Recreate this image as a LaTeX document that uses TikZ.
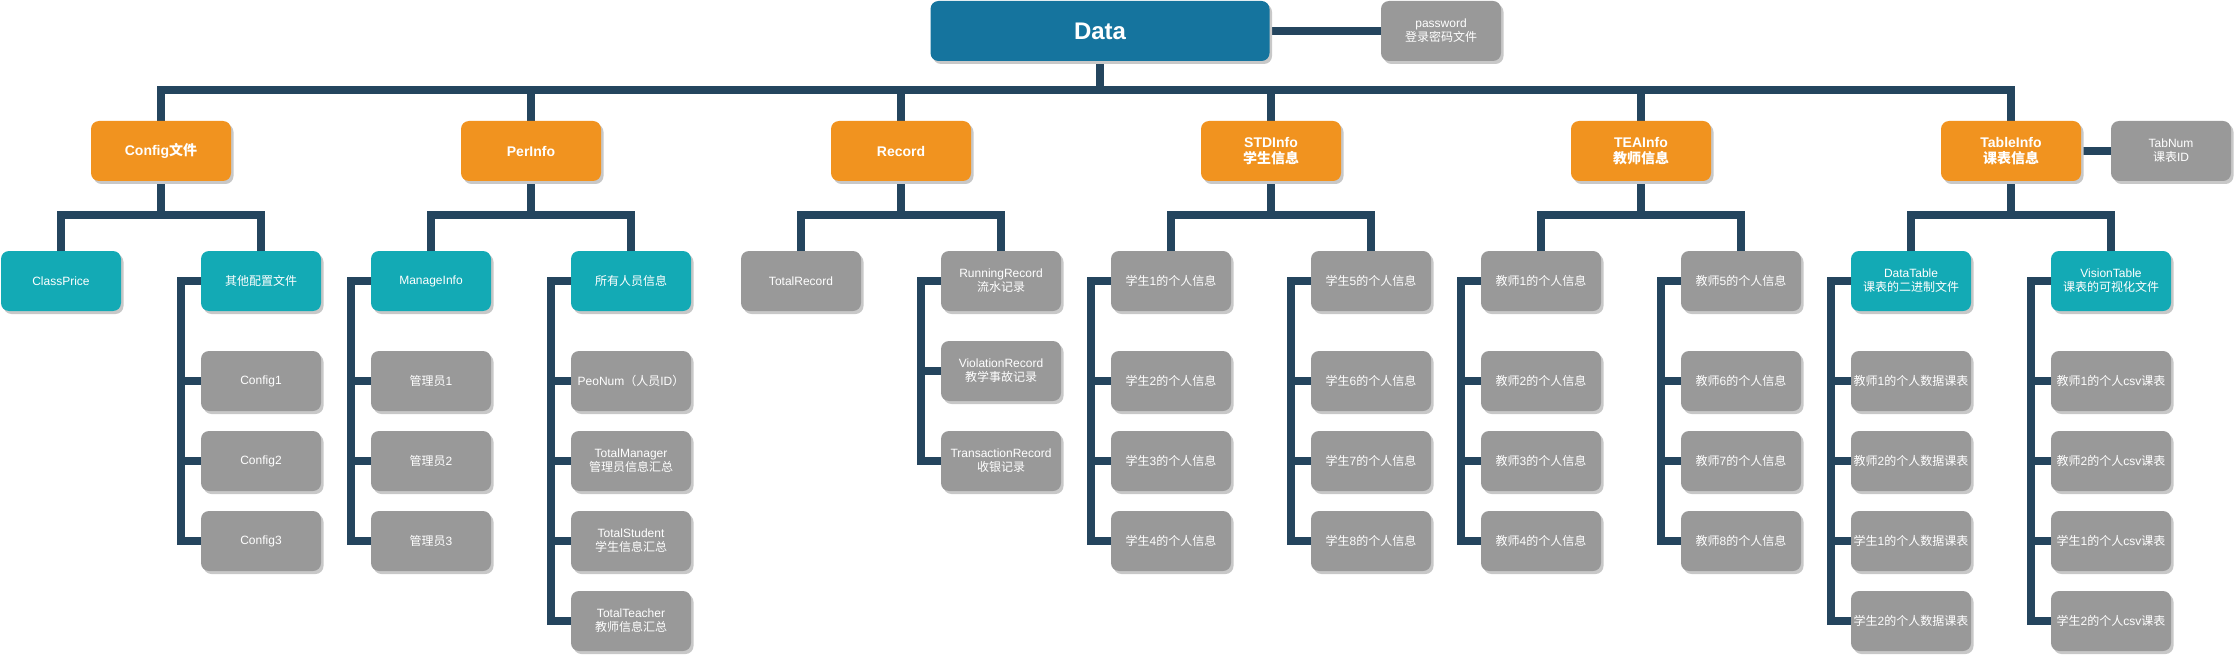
\documentclass[tikz,border=0pt]{standalone}
\usepackage{fontspec}
\setmainfont{Liberation Sans}
\newfontfamily\cjk{Noto Sans CJK SC}
\newcommand\zhs[1]{{\cjk #1}}
\usetikzlibrary{shadows,backgrounds}
\definecolor{datac}{RGB}{21,116,158}
\definecolor{orangec}{RGB}{241,147,31}
\definecolor{tealc}{RGB}{19,170,181}
\definecolor{grayc}{RGB}{153,153,153}
\definecolor{linec}{RGB}{36,69,94}
\definecolor{shadowc}{RGB}{200,200,200}
\tikzset{
  box/.style={rectangle, rounded corners=8pt, text=white, align=center, inner sep=0pt,
    minimum height=60pt,
    drop shadow={shadow xshift=2.5pt, shadow yshift=-3pt, fill=shadowc, opacity=1}},
  rootbox/.style={box, fill=datac, minimum width=339pt, font=\fontsize{24}{28}\selectfont\bfseries},
  onebox/.style={box, fill=orangec, minimum width=140pt, font=\fontsize{14}{16}\selectfont\bfseries},
  graybox/.style={box, fill=grayc, minimum width=120pt, font=\fontsize{12}{14}\selectfont},
  tealbox/.style={box, fill=tealc, minimum width=120pt, font=\fontsize{12}{14}\selectfont},
  conn/.style={draw=linec, line width=7.5pt},
}
\begin{document}
\begin{tikzpicture}[x=1pt, y=-1pt]
\useasboundingbox (0,0) rectangle (2235,655);
% root
\node[rootbox] (data) at (1100,31) {Data};
\node[graybox] (pw) at (1441,31) {password\\\zhs{登录密码文件}};
% level 1
\node[onebox] (cfg) at (161,151) {Config\zhs{文件}};
\node[onebox] (per) at (531,151) {PerInfo};
\node[onebox] (rec) at (901,151) {Record};
\node[onebox] (std) at (1271,151) {STDInfo\\\zhs{学生信息}};
\node[onebox] (tea) at (1641,151) {TEAInfo\\\zhs{教师信息}};
\node[onebox] (tab) at (2011,151) {TableInfo\\\zhs{课表信息}};
\node[graybox] (tabnum) at (2171,151) {TabNum\\\zhs{课表}ID};
% level 2
\node[tealbox] (cp) at (61,281) {ClassPrice};
\node[tealbox] (oth) at (261,281) {\zhs{其他配置文件}};
\node[tealbox] (man) at (431,281) {ManageInfo};
\node[tealbox] (all) at (631,281) {\zhs{所有人员信息}};
\node[graybox] (trec) at (801,281) {TotalRecord};
\node[graybox] (run) at (1001,281) {RunningRecord\\\zhs{流水记录}};
\node[graybox] (sa) at (1171,281) {\zhs{学生}1\zhs{的个人信息}};
\node[graybox] (sb) at (1371,281) {\zhs{学生}5\zhs{的个人信息}};
\node[graybox] (ta) at (1541,281) {\zhs{教师}1\zhs{的个人信息}};
\node[graybox] (tb) at (1741,281) {\zhs{教师}5\zhs{的个人信息}};
\node[tealbox] (dt) at (1911,281) {DataTable\\\zhs{课表的二进制文件}};
\node[tealbox] (vt) at (2111,281) {VisionTable\\\zhs{课表的可视化文件}};
% level 3
\node[graybox] (c1) at (261,381) {Config1};
\node[graybox] (c2) at (261,461) {Config2};
\node[graybox] (c3) at (261,541) {Config3};
\node[graybox] (m1) at (431,381) {\zhs{管理员}1};
\node[graybox] (m2) at (431,461) {\zhs{管理员}2};
\node[graybox] (m3) at (431,541) {\zhs{管理员}3};
\node[graybox] (a1) at (631,381) {PeoNum\zhs{（人员}ID\zhs{）}};
\node[graybox] (a2) at (631,461) {TotalManager\\\zhs{管理员信息汇总}};
\node[graybox] (a3) at (631,541) {TotalStudent\\\zhs{学生信息汇总}};
\node[graybox] (a4) at (631,621) {TotalTeacher\\\zhs{教师信息汇总}};
\node[graybox] (r1) at (1001,371) {ViolationRecord\\\zhs{教学事故记录}};
\node[graybox] (r2) at (1001,461) {TransactionRecord\\\zhs{收银记录}};
\node[graybox] (s2) at (1171,381) {\zhs{学生}2\zhs{的个人信息}};
\node[graybox] (s3) at (1171,461) {\zhs{学生}3\zhs{的个人信息}};
\node[graybox] (s4) at (1171,541) {\zhs{学生}4\zhs{的个人信息}};
\node[graybox] (s6) at (1371,381) {\zhs{学生}6\zhs{的个人信息}};
\node[graybox] (s7) at (1371,461) {\zhs{学生}7\zhs{的个人信息}};
\node[graybox] (s8) at (1371,541) {\zhs{学生}8\zhs{的个人信息}};
\node[graybox] (t2) at (1541,381) {\zhs{教师}2\zhs{的个人信息}};
\node[graybox] (t3) at (1541,461) {\zhs{教师}3\zhs{的个人信息}};
\node[graybox] (t4) at (1541,541) {\zhs{教师}4\zhs{的个人信息}};
\node[graybox] (t6) at (1741,381) {\zhs{教师}6\zhs{的个人信息}};
\node[graybox] (t7) at (1741,461) {\zhs{教师}7\zhs{的个人信息}};
\node[graybox] (t8) at (1741,541) {\zhs{教师}8\zhs{的个人信息}};
\node[graybox] (d1) at (1911,381) {\zhs{教师}1\zhs{的个人数据课表}};
\node[graybox] (d2) at (1911,461) {\zhs{教师}2\zhs{的个人数据课表}};
\node[graybox] (d3) at (1911,541) {\zhs{学生}1\zhs{的个人数据课表}};
\node[graybox] (d4) at (1911,621) {\zhs{学生}2\zhs{的个人数据课表}};
\node[graybox] (v1) at (2111,381) {\zhs{教师}1\zhs{的个人}csv\zhs{课表}};
\node[graybox] (v2) at (2111,461) {\zhs{教师}2\zhs{的个人}csv\zhs{课表}};
\node[graybox] (v3) at (2111,541) {\zhs{学生}1\zhs{的个人}csv\zhs{课表}};
\node[graybox] (v4) at (2111,621) {\zhs{学生}2\zhs{的个人}csv\zhs{课表}};
% connectors
\begin{scope}[on background layer]
\fill[white] (0,0) rectangle (2235,655);
\foreach \c in {cfg,per,rec,std,tea,tab}
  \draw[conn] (data.south) -- ++(0,29) -| (\c.north);
\draw[conn] (data.east) -- (pw.west);
\draw[conn] (tab.east) -- (tabnum.west);
\foreach \p/\c in {cfg/cp,cfg/oth,per/man,per/all,rec/trec,rec/run,std/sa,std/sb,tea/ta,tea/tb,tab/dt,tab/vt}
  \draw[conn] (\p.south) -- ++(0,34) -| (\c.north);
\foreach \p/\c in {oth/c1,oth/c2,oth/c3,man/m1,man/m2,man/m3,all/a1,all/a2,all/a3,all/a4,run/r1,run/r2,sa/s2,sa/s3,sa/s4,sb/s6,sb/s7,sb/s8,ta/t2,ta/t3,ta/t4,tb/t6,tb/t7,tb/t8,dt/d1,dt/d2,dt/d3,dt/d4,vt/v1,vt/v2,vt/v3,vt/v4}
  \draw[conn] (\p.west) -- ++(-20,0) |- (\c.west);
\end{scope}
\end{tikzpicture}
\end{document}
